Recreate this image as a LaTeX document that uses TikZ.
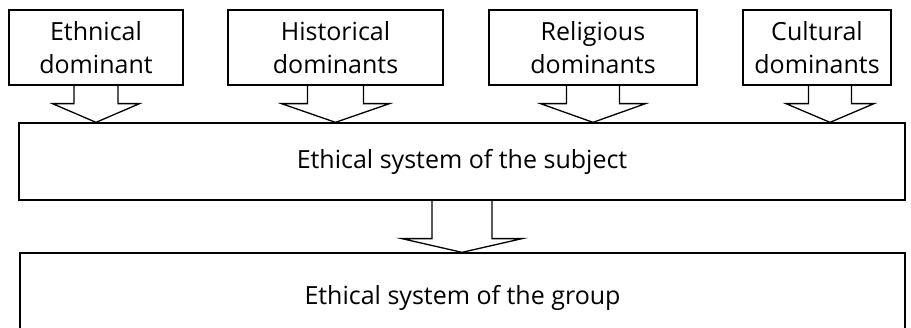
\documentclass[tikz,border=0pt]{standalone}
\usepackage{fontspec}
\setmainfont{Open Sans}
\usetikzlibrary{calc}
% block arrow: from, to, x shift, stem half width, wing half width, stem length
\newcommand{\blockarrow}[6]{%
  \draw[arr] ($(#1.south)+(#3-#4,0)$) -- ++(0,#6) -- ($(#1.south)+(#3-#5,#6)$)
    -- ($(#1.south |- #2.north)+(#3,0)$)
    -- ($(#1.south)+(#3+#5,#6)$) -- ($(#1.south)+(#3+#4,#6)$) -- ($(#1.south)+(#3+#4,0)$);}
\begin{document}
\begin{tikzpicture}[x=1pt,y=-1pt]
  \tikzset{dom/.style={draw,line width=1.3pt,rectangle,minimum height=75pt,inner sep=0pt,
      align=center,font=\fontsize{25}{33}\selectfont},
    sys/.style={draw,line width=1.3pt,rectangle,inner sep=0pt,font=\fontsize{25}{33}\selectfont},
    arr/.style={line width=1.3pt,line join=miter}}
  \useasboundingbox (0,0) rectangle (911,328);
  \node[dom,minimum width=174pt] (eth) at (96,47.5) {Ethnical\\dominant};
  \node[dom,minimum width=215pt] (hist) at (335.5,47.5) {Historical\\dominants};
  \node[dom,minimum width=208pt] (rel) at (593,47.5) {Religious\\dominants};
  \node[dom,minimum width=148pt] (cult) at (817,47.5) {Cultural\\dominants};
  \node[sys,minimum width=886pt,minimum height=77pt] (subj) at (462,161.5) {Ethical system of the subject};
  \node[sys,minimum width=885pt,minimum height=90pt] (grp) at (462.5,298) {Ethical system of the group};
  \blockarrow{eth}{subj}{0}{22}{43.5}{18}
  \blockarrow{hist}{subj}{0}{28}{54}{18}
  \blockarrow{rel}{subj}{0}{26.5}{52.5}{18}
  \blockarrow{cult}{subj}{13}{21.5}{44}{18}
  \blockarrow{subj}{grp}{0}{30}{60}{38}
\end{tikzpicture}
\end{document}
